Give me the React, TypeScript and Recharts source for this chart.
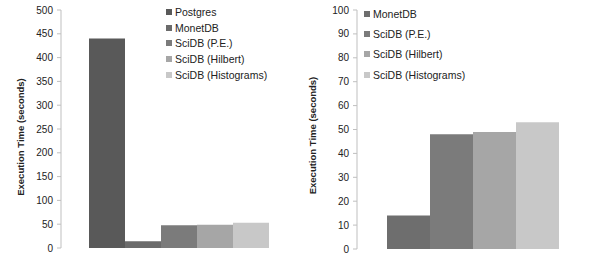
import { BarChart, Bar, XAxis, YAxis } from 'recharts';

const leftSeries = ['Postgres', 'MonetDB', 'SciDB (P.E.)', 'SciDB (Hilbert)', 'SciDB (Histograms)'];
const leftValues = [440, 14, 48, 49, 53];
const leftColors = ['#595959', '#6b6b6b', '#7b7b7b', '#a6a6a6', '#c8c8c8'];
const leftTicks = [0, 50, 100, 150, 200, 250, 300, 350, 400, 450, 500];

const rightSeries = ['MonetDB', 'SciDB (P.E.)', 'SciDB (Hilbert)', 'SciDB (Histograms)'];
const rightValues = [14, 48, 49, 53];
const rightColors = ['#6e6e6e', '#7b7b7b', '#a6a6a6', '#c8c8c8'];
const rightTicks = [0, 10, 20, 30, 40, 50, 60, 70, 80, 90, 100];

const FONT = '"Liberation Sans", Arial, sans-serif';
const AXIS = '#bfbfbf';

function makeRow(series: string[], values: number[]) {
  const row: Record<string, number | string> = { name: '' };
  series.forEach((s, i) => (row[s] = values[i]));
  return [row];
}

function LegendBox({ series, colors, rowHeight, left, top }: { series: string[]; colors: string[]; rowHeight: number; left: number; top: number }) {
  return (
    <div style={{ position: 'absolute', left, top, fontFamily: FONT, fontSize: 10.5, color: '#222', whiteSpace: 'nowrap' }}>
      {series.map((s, i) => (
        <div key={s} style={{ display: 'flex', alignItems: 'center', height: rowHeight }}>
          <span style={{ width: 6, height: 6, background: colors[i], marginRight: 3 }} />
          <span>{s}</span>
        </div>
      ))}
    </div>
  );
}

/* eslint-disable @typescript-eslint/no-explicit-any */
function YLabel(props: any) {
  const { x, cy } = props;
  return (
    <text
      x={x}
      y={cy}
      transform={`rotate(-90, ${x}, ${cy})`}
      textAnchor="middle"
      dominantBaseline="central"
      fontFamily={FONT}
      fontSize={9.5}
      fontWeight="bold"
      fill="#222"
    >
      Execution Time (seconds)
    </text>
  );
}

export default function App() {
  const tickStyle = { fontFamily: FONT, fontSize: 10, fill: '#222' };
  return (
    <div style={{ position: 'absolute', left: 0, top: 0, width: 590, height: 254, background: '#fff' }}>
      <div style={{ position: 'absolute', left: 0, top: 0 }}>
        <BarChart
          width={300}
          height={254}
          data={makeRow(leftSeries, leftValues)}
          margin={{ top: 10, right: 4, left: 0, bottom: 6 }}
          barCategoryGap={28}
          barGap={0}
        >
          <XAxis dataKey="name" height={0} tick={false} tickLine={false} axisLine={{ stroke: AXIS }} />
          <YAxis
            width={61}
            domain={[0, 500]}
            ticks={leftTicks}
            interval={0}
            tick={tickStyle}
            tickSize={4}
            tickMargin={4}
            axisLine={{ stroke: AXIS }}
            tickLine={{ stroke: AXIS }}
            label={(p: any) => <YLabel x={20} cy={p.viewBox.y + p.viewBox.height / 2 + 8} />}
          />
          {leftSeries.map((s, i) => (
            <Bar key={s} dataKey={s} fill={leftColors[i]} isAnimationActive={false} />
          ))}
        </BarChart>
      </div>
      <LegendBox series={leftSeries} colors={leftColors} rowHeight={15.8} left={166} top={4} />
      <div style={{ position: 'absolute', left: 300, top: 0 }}>
        <BarChart
          width={290}
          height={254}
          data={makeRow(rightSeries, rightValues)}
          margin={{ top: 10, right: 3, left: 0, bottom: 5 }}
          barCategoryGap={30}
          barGap={0}
        >
          <XAxis dataKey="name" height={0} tick={false} tickLine={false} axisLine={{ stroke: AXIS }} />
          <YAxis
            width={57}
            domain={[0, 100]}
            ticks={rightTicks}
            interval={0}
            tick={tickStyle}
            tickSize={4}
            tickMargin={4}
            axisLine={{ stroke: AXIS }}
            tickLine={{ stroke: AXIS }}
            label={(p: any) => <YLabel x={12} cy={p.viewBox.y + p.viewBox.height / 2 + 6} />}
          />
          {rightSeries.map((s, i) => (
            <Bar key={s} dataKey={s} fill={rightColors[i]} isAnimationActive={false} />
          ))}
        </BarChart>
      </div>
      <LegendBox series={rightSeries} colors={rightColors} rowHeight={20.2} left={364} top={4} />
    </div>
  );
}
